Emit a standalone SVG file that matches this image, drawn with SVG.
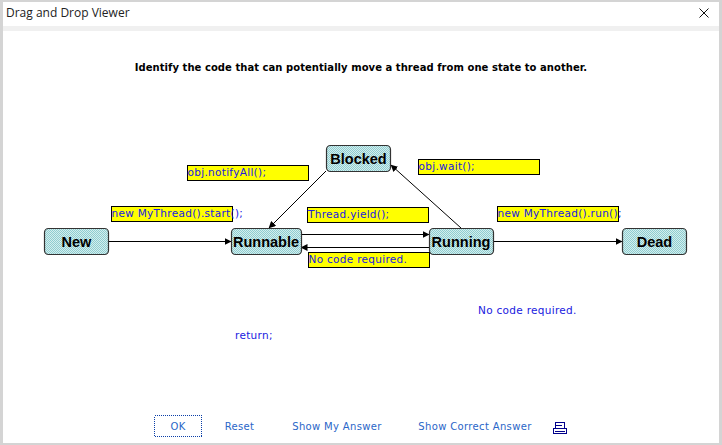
<svg xmlns="http://www.w3.org/2000/svg" width="722" height="445" viewBox="0 0 722 445">
<style>
.n{fill:url(#d);stroke:#333;stroke-width:1.2}
.nt{font:bold 14.5px "Liberation Sans",Arial,sans-serif;fill:#000;text-anchor:middle}
.y{fill:#ff0;stroke:#000;stroke-width:1}
.c{font:10.500px "DejaVu Sans",Verdana,sans-serif;letter-spacing:.3px;fill:#2020e0}
.b{font:10px "DejaVu Sans",Verdana,sans-serif;letter-spacing:.35px;fill:#2a66c8;text-anchor:middle}
.l{fill:none;stroke:#000;stroke-width:1;marker-end:url(#a)}
</style>
<defs>
<pattern id="d" width="2" height="2" patternUnits="userSpaceOnUse">
<rect width="2" height="2" fill="#d4eeee"/>
<rect width="1" height="1" fill="#8fcdd0" shape-rendering="crispEdges"/>
<rect x="1" y="1" width="1" height="1" fill="#8fcdd0" shape-rendering="crispEdges"/>
</pattern>
<marker id="a" markerWidth="7" markerHeight="7" refX="6.500" refY="3.500" orient="auto" markerUnits="userSpaceOnUse">
<path d="M0 0L7 3.500L0 7Z" fill="#000"/>
</marker>
</defs>
<rect width="722" height="445" fill="#d4d4d4"/>
<rect x="3" y="2" width="716" height="441" fill="#fff"/>
<rect x="3" y="26" width="716" height="5" fill="#f0f0f0"/>
<text x="6" y="17" font-family="'Open Sans','Noto Sans',sans-serif" font-size="12" fill="#222">Drag and Drop Viewer</text>
<path d="M699.500 8.500L708.500 17.500M708.500 8.500L699.500 17.500" stroke="#111" stroke-width="1" fill="none"/>
<text x="361" y="71" text-anchor="middle" font-family="'DejaVu Sans',Verdana,sans-serif" font-size="10" font-weight="bold" letter-spacing=".05" fill="#000">Identify the code that can potentially move a thread from one state to another.</text>

<g id="connectors">
<line class="l" x1="108" y1="241.500" x2="231" y2="241.500"/>
<line class="l" x1="326" y1="171" x2="269" y2="228"/>
<line class="l" x1="301" y1="234.500" x2="429" y2="234.500"/>
<line class="l" x1="429" y1="247.500" x2="301" y2="247.500"/>
<line class="l" x1="461" y1="228" x2="391" y2="165"/>
<line class="l" x1="493" y1="241.500" x2="622" y2="241.500"/>
</g>

<g id="new"><rect class="n" x="44.500" y="228.500" width="64" height="26" rx="4"/><text class="nt" x="76.500" y="246.500">New</text></g>
<g id="runnable"><rect class="n" x="231.500" y="228.500" width="70" height="26" rx="4"/><text class="nt" x="266" y="246.500">Runnable</text></g>
<g id="blocked"><rect class="n" x="326.500" y="145.500" width="64" height="26" rx="4"/><text class="nt" x="358.500" y="163.500">Blocked</text></g>
<g id="running"><rect class="n" x="429.500" y="228.500" width="64" height="26" rx="4"/><text class="nt" x="461" y="246.500">Running</text></g>
<g id="dead"><rect class="n" x="622.500" y="228.500" width="64" height="26" rx="4"/><text class="nt" x="654.500" y="246.500">Dead</text></g>

<g id="label-notify"><rect class="y" x="187.500" y="165.500" width="121" height="15"/><text class="c" x="187.500" y="176">obj.notifyAll();</text></g>
<g id="label-start"><rect class="y" x="111.500" y="206.500" width="121" height="15"/><text class="c" x="111.500" y="217">new MyThread().start();</text></g>
<g id="label-yield"><rect class="y" x="307.500" y="207.500" width="121" height="15"/><text class="c" x="308" y="218">Thread.yield();</text></g>
<g id="label-nocode"><rect class="y" x="308.500" y="252.500" width="121" height="15"/><text class="c" x="308.500" y="263">No code required.</text></g>
<g id="label-wait"><rect class="y" x="418.500" y="159.500" width="121" height="15"/><text class="c" x="418.500" y="170">obj.wait();</text></g>
<g id="label-run"><rect class="y" x="497.500" y="206.500" width="121" height="15"/><text class="c" x="497.500" y="217">new MyThread().run();</text></g>

<g id="spare-nocode"><text class="c" x="478" y="314">No code required.</text></g>
<g id="spare-return"><text class="c" x="235" y="339">return;</text></g>

<g id="buttons">
<rect x="154.500" y="415.500" width="47" height="21" fill="none" stroke="#0a3fa8" stroke-width="1" stroke-dasharray="1 1" shape-rendering="crispEdges"/>
<text class="b" x="178" y="430">OK</text>
<text class="b" x="239.500" y="430">Reset</text>
<text class="b" x="337" y="430">Show My Answer</text>
<text class="b" x="475" y="430">Show Correct Answer</text>
<g id="print" fill="none" stroke="#00008b" stroke-width="1">
<rect x="555.500" y="422.500" width="9" height="6"/>
<rect x="553.500" y="428.500" width="13" height="5"/>
<line x1="556" y1="425.500" x2="562" y2="425.500"/>
<line x1="555" y1="431.500" x2="565" y2="431.500"/>
</g>
</g>
</svg>
